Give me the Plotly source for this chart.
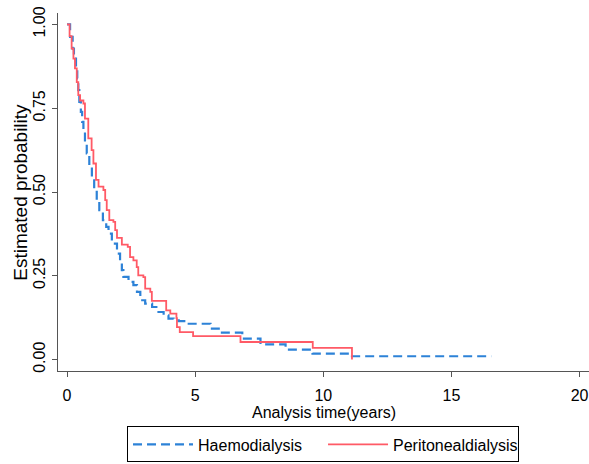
import plotly.graph_objects as go

# Kaplan-Meier estimates
haemo_t = [0, 0.12, 0.22, 0.27, 0.35, 0.40, 0.44, 0.48, 0.54, 0.59, 0.64, 0.70, 0.77, 0.87,
           0.97, 1.06, 1.16, 1.26, 1.40, 1.53, 1.62, 1.75, 1.95, 2.07, 2.14, 2.20, 2.40, 2.59,
           2.73, 2.86, 3.05, 3.32, 3.57, 3.77, 3.96, 4.16, 4.36, 4.75, 5.60, 5.99, 6.84, 7.55,
           8.53, 9.58, 11.12, 16.56]
haemo_s = [1.0, 0.963, 0.928, 0.898, 0.869, 0.839, 0.804, 0.769, 0.739, 0.709, 0.679, 0.645,
           0.615, 0.575, 0.535, 0.505, 0.475, 0.446, 0.416, 0.396, 0.376, 0.346, 0.316, 0.296,
           0.267, 0.247, 0.232, 0.222, 0.202, 0.177, 0.167, 0.157, 0.142, 0.132, 0.122, 0.117,
           0.115, 0.107, 0.0925, 0.0806, 0.0627, 0.0457, 0.030, 0.018, 0.010, 0.010]

perit_t = [0, 0.10, 0.18, 0.25, 0.31, 0.38, 0.44, 0.51, 0.64, 0.70, 0.83, 0.96, 1.03, 1.13,
           1.23, 1.42, 1.49, 1.55, 1.65, 1.81, 1.88, 1.95, 2.14, 2.37, 2.46, 2.59, 2.72, 2.78,
           2.98, 3.05, 3.25, 3.31, 3.87, 4.03, 4.27, 4.29, 4.40, 4.92, 6.77, 9.59, 11.12]
perit_s = [1.0, 0.965, 0.928, 0.898, 0.869, 0.828, 0.789, 0.773, 0.764, 0.719, 0.660, 0.625,
           0.585, 0.536, 0.516, 0.506, 0.476, 0.446, 0.416, 0.411, 0.386, 0.363, 0.343, 0.336,
           0.306, 0.296, 0.276, 0.251, 0.246, 0.212, 0.202, 0.175, 0.147, 0.137, 0.124, 0.097,
           0.082, 0.070, 0.0525, 0.035, 0.0]

y_ticks = [0, 0.25, 0.5, 0.75, 1.0]
y_ticktext = ["0.00", "0.25", "0.50", "0.75", "1.00"]
x_ticks = [0, 5, 10, 15, 20]

FONT = "Liberation Sans, Arial, sans-serif"
BLUE = "#2d82d7"
RED = "#ff5a66"
AXC = "#555555"

fig = go.Figure()
fig.add_trace(go.Scatter(x=haemo_t, y=haemo_s, mode="lines", name="Haemodialysis",
                         line=dict(color=BLUE, width=2.2, dash="9px,5px", shape="hv")))
fig.add_trace(go.Scatter(x=perit_t, y=perit_s, mode="lines", name="Peritonealdialysis",
                         line=dict(color=RED, width=1.8, shape="hv")))

fig.update_layout(
    width=589, height=464,
    margin=dict(l=58, r=0, t=13, b=93),
    paper_bgcolor="white", plot_bgcolor="white",
    font=dict(family=FONT, size=16, color="black"),
    showlegend=True,
    legend=dict(orientation="h", x=0.13, y=-0.155, xanchor="left", yanchor="top",
                bordercolor="black", borderwidth=1, font=dict(size=16),
                entrywidth=120, entrywidthmode="pixels", itemwidth=60,
                tracegroupgap=0),
    xaxis=dict(range=[-0.352, 20.37], tickvals=x_ticks, ticks="outside", ticklen=5,
               tickcolor=AXC, showline=True, linecolor=AXC, linewidth=1.3,
               showgrid=False, zeroline=False, tickfont=dict(size=16),
               ticklabelstandoff=5),
    yaxis=dict(range=[-0.034, 1.034], tickvals=y_ticks, ticktext=y_ticktext,
               tickangle=-90, ticks="outside", ticklen=5, tickcolor=AXC,
               showline=True, linecolor=AXC, linewidth=1.3, showgrid=False,
               zeroline=False, tickfont=dict(size=16)),
    annotations=[
        dict(text="Estimated probability", xref="paper", yref="paper", x=-0.072, y=0.5,
             xanchor="center", yanchor="middle", textangle=-90, showarrow=False,
             font=dict(size=19)),
        dict(text="Analysis time(years)", xref="paper", yref="paper", x=0.5, y=-0.117,
             xanchor="center", yanchor="middle", showarrow=False, font=dict(size=16)),
    ],
)

fig.write_html("out.html")
